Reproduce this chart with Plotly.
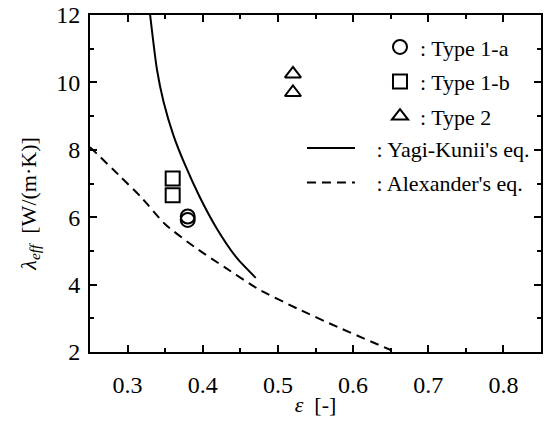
import plotly.graph_objects as go

# Data
t1a_x = [0.38, 0.38]
t1a_y = [6.02, 5.92]
t1b_x = [0.36, 0.36]
t1b_y = [7.15, 6.65]
t2_x = [0.52, 0.52]
t2_y = [10.25, 9.70]

yagi_x = [0.330, 0.339, 0.348, 0.361, 0.3765, 0.396, 0.418, 0.445, 0.4705]
yagi_y = [12.0, 10.39, 9.41, 8.43, 7.55, 6.60, 5.69, 4.80, 4.20]

alex_x = [0.25, 0.288, 0.319, 0.35, 0.39, 0.4295, 0.4736, 0.5266, 0.5795, 0.65]
alex_y = [8.08, 7.26, 6.57, 5.79, 5.10, 4.51, 3.87, 3.28, 2.74, 2.06]

FONT = "Times New Roman, Liberation Serif, serif"
FS_TICK = 24
FS_TEXT = 22
NB = "\u00a0"

fig = go.Figure()
mk = dict(size=14, color="black", line=dict(color="black", width=2))
fig.add_trace(go.Scatter(x=t1a_x, y=t1a_y, mode="markers", name=": Type 1-a",
                         marker=dict(symbol="circle-open", **mk), legend="legend", legendgroup="a"))
fig.add_trace(go.Scatter(x=t1b_x, y=t1b_y, mode="markers", name=": Type 1-b",
                         marker=dict(symbol="square-open", **mk), legend="legend", legendgroup="b"))
fig.add_trace(go.Scatter(x=t2_x, y=t2_y, mode="markers", name=": Type 2",
                         marker=dict(symbol="triangle-up-open", **mk), legend="legend", legendgroup="c"))
fig.add_trace(go.Scatter(x=yagi_x, y=yagi_y, mode="lines", name=NB * 3 + ": Yagi-Kunii's eq.",
                         line=dict(color="black", width=2, shape="spline", smoothing=0.6),
                         legend="legend2", legendgroup="d"))
fig.add_trace(go.Scatter(x=alex_x, y=alex_y, mode="lines", name=NB * 3 + ": Alexander's eq.",
                         line=dict(color="black", width=2, dash="9px,6px", shape="spline", smoothing=0.6),
                         legend="legend2", legendgroup="e"))

axis_common = dict(
    showline=True, linecolor="black", linewidth=2, mirror="allticks",
    ticks="inside", ticklen=7, tickwidth=1.5, tickcolor="black",
    showgrid=False, zeroline=False, ticklabeloverflow="allow",
    tickfont=dict(family=FONT, size=FS_TICK, color="black"),
)

fig.update_xaxes(range=[0.25, 0.85], tick0=0.3, dtick=0.1, tickformat=".1f",
                 minor=dict(dtick=0.05, tick0=0.25, ticks="inside", ticklen=4, tickwidth=1.5, tickcolor="black"),
                 ticklabelstandoff=10,
                 title=dict(text="<i>ε</i>  [-]", font=dict(family=FONT, size=FS_TEXT, color="black"), standoff=0),
                 **axis_common)
fig.update_yaxes(range=[2, 12], tick0=2, dtick=2,
                 minor=dict(dtick=1, tick0=2, ticks="inside", ticklen=4, tickwidth=1.5, tickcolor="black"),
                 ticklabelstandoff=3,
                 **axis_common)

fig.add_annotation(text="<i>λ</i><sub><i>eff</i></sub>  [W/(m·K)]", textangle=-90,
                   xref="paper", yref="paper", x=-0.1325, y=0.438, xanchor="center", yanchor="middle",
                   showarrow=False, font=dict(family=FONT, size=FS_TEXT, color="black"))

legfont = dict(family=FONT, size=FS_TEXT, color="black")
fig.update_layout(
    width=545, height=428,
    margin=dict(l=90, r=2, t=12, b=76),
    paper_bgcolor="white", plot_bgcolor="white",
    font=dict(family=FONT, size=FS_TEXT, color="black"),
    legend=dict(x=0.643, y=0.967, xanchor="left", yanchor="top", bgcolor="rgba(0,0,0,0)",
                font=legfont, tracegroupgap=3, itemwidth=30),
    legend2=dict(x=0.47, y=0.667, xanchor="left", yanchor="top", bgcolor="rgba(0,0,0,0)",
                 font=legfont, tracegroupgap=3, itemwidth=48),
)

fig.write_html("out.html")
